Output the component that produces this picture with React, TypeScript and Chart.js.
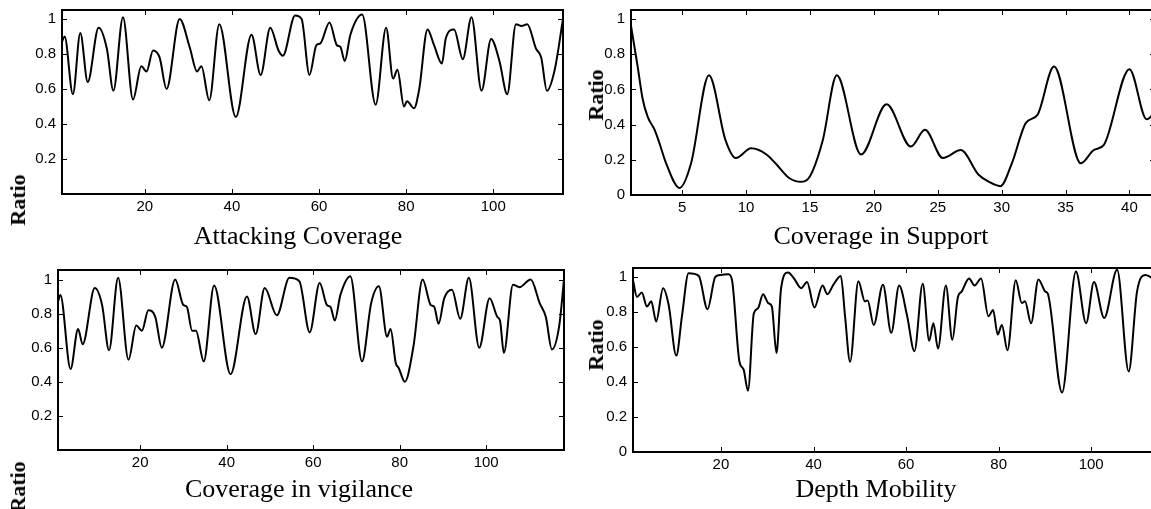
import React, { useEffect, useRef } from 'react';
import { Chart, registerables } from 'chart.js';

Chart.register(...registerables);

// ---------- data ----------
const attackX = [1, 1.6, 3.5, 5.2, 6.9, 9.4, 11.3, 12.8, 15, 17.3, 19.2, 20.4, 21.9, 23.4, 25, 28, 30.3, 32, 33, 34.8, 37.1, 40.9, 44.5, 46.6, 48.8, 50.7, 51.7, 54.5, 56, 57.8, 59.4, 60.3, 62.4, 64.1, 64.9, 65.9, 67.2, 69.9, 73, 75.4, 77, 78, 79.5, 80.2, 81.8, 83, 84.9, 86.4, 88.2, 89.1, 91, 93, 95, 97.3, 99.5, 101.4, 103.2, 105.2, 106.5, 107.8, 109.8, 111, 112.3, 114.1, 116];
const attackY = [0.87, 0.9, 0.57, 0.92, 0.64, 0.95, 0.83, 0.59, 1.01, 0.54, 0.73, 0.7, 0.82, 0.78, 0.6, 1.0, 0.84, 0.7, 0.73, 0.535, 0.97, 0.44, 0.91, 0.68, 0.95, 0.82, 0.79, 1.02, 1.0, 0.68, 0.85, 0.86, 0.98, 0.85, 0.84, 0.76, 0.91, 1.025, 0.51, 0.95, 0.66, 0.71, 0.5, 0.53, 0.49, 0.6, 0.94, 0.85, 0.745, 0.89, 0.94, 0.77, 1.01, 0.59, 0.885, 0.76, 0.57, 0.97, 0.96, 0.97, 0.83, 0.78, 0.59, 0.71, 1.0];

const supportX = [1, 1.5, 1.9, 2.3, 2.85, 3.2, 3.75, 4.8, 5.7, 7.1, 8.4, 9.2, 10.4, 11.6, 12.3, 13.4, 14.3, 14.9, 16, 17.1, 19, 21, 22.9, 24, 25.4, 26.8, 28.2, 29, 29.9, 30.8, 31.9, 32.8, 34.1, 36.2, 37.2, 38, 40, 41.35, 42];
const supportY = [0.96, 0.74, 0.55, 0.445, 0.37, 0.3, 0.18, 0.04, 0.18, 0.68, 0.31, 0.21, 0.265, 0.23, 0.18, 0.095, 0.075, 0.095, 0.31, 0.68, 0.23, 0.515, 0.275, 0.37, 0.21, 0.255, 0.115, 0.075, 0.05, 0.18, 0.41, 0.455, 0.73, 0.18, 0.255, 0.285, 0.715, 0.43, 0.47];

const vigilX = [1, 1.55, 3.9, 5.65, 6.7, 9.5, 11.2, 12.8, 14.9, 17.3, 19.1, 20.4, 21.9, 23.5, 25, 28.1, 30, 30.8, 32, 32.9, 34.7, 37.1, 40.9, 44.7, 46.7, 48.8, 51.6, 54.5, 56.8, 59.2, 61.5, 63.2, 64, 65, 66.3, 68.6, 71.3, 73.4, 75.2, 77.1, 77.9, 79.1, 79.8, 81.2, 83.2, 85.3, 87.2, 88, 89, 90.3, 92.1, 94, 96, 98.4, 100.8, 102.6, 103.2, 104.1, 106.2, 107.7, 110.3, 112.4, 113.8, 115.2, 116.9, 118];
const vigilY = [0.87, 0.91, 0.475, 0.71, 0.62, 0.95, 0.85, 0.585, 1.01, 0.53, 0.73, 0.7, 0.82, 0.78, 0.6, 1.0, 0.85, 0.84, 0.7, 0.7, 0.52, 0.965, 0.445, 0.9, 0.68, 0.95, 0.79, 1.01, 0.99, 0.69, 0.98, 0.85, 0.84, 0.76, 0.91, 1.02, 0.52, 0.86, 0.96, 0.665, 0.71, 0.51, 0.48, 0.4, 0.61, 1.0, 0.85, 0.84, 0.74, 0.89, 0.94, 0.77, 1.01, 0.6, 0.89, 0.78, 0.76, 0.57, 0.97, 0.955, 1.0, 0.86, 0.78, 0.59, 0.73, 1.0];

const depthX = [1, 1.85, 2.9, 4, 4.95, 6, 7.5, 8.7, 10.35, 11.6, 13, 15.2, 17.1, 18.8, 20, 21.65, 22.4, 24, 24.9, 25.85, 27.1, 28, 29.1, 30.2, 31, 32, 33, 34.5, 35.8, 37.35, 38.6, 40.2, 41.95, 43, 44.3, 45.9, 46.8, 47.9, 49.7, 51.1, 51.7, 53, 55, 56.8, 58.5, 60.2, 61.8, 63.6, 65, 65.9, 66.9, 68.6, 70, 71.2, 72, 73.6, 74.8, 76.2, 77.8, 78.8, 79.8, 80.7, 81.9, 83.7, 85, 85.7, 87, 88.6, 90.1, 90.6, 93.7, 96.7, 98.9, 100.6, 102.8, 105.6, 108.1, 109.9, 111.7, 113, 114];
const depthY = [0.98, 0.885, 0.91, 0.83, 0.86, 0.745, 0.935, 0.84, 0.55, 0.78, 1.02, 1.005, 0.815, 1.0, 1.01, 1.015, 0.98, 0.515, 0.47, 0.35, 0.79, 0.82, 0.9, 0.85, 0.83, 0.565, 0.935, 1.025, 0.99, 0.935, 0.97, 0.825, 0.95, 0.9, 0.955, 1.005, 0.78, 0.515, 0.975, 0.86, 0.865, 0.725, 0.955, 0.68, 0.95, 0.78, 0.575, 0.96, 0.635, 0.735, 0.59, 0.95, 0.64, 0.885, 0.915, 0.99, 0.95, 0.99, 0.775, 0.81, 0.67, 0.725, 0.58, 0.98, 0.85, 0.86, 0.735, 0.985, 0.915, 0.905, 0.34, 1.03, 0.735, 0.97, 0.765, 1.04, 0.46, 0.915, 1.01, 0.995, 0.97];

const yTickValues = [0, 0.2, 0.4, 0.6, 0.8, 1];

// ---------- layout ----------
type PanelCfg = {
  title: string;
  xs: number[];
  ys: number[];
  xMin: number;
  xMax: number;
  yMax: number;
  step: number;
  showZero: boolean;
  L: number; T: number; R: number; B: number;
  titleX: number; titleBase: number;
  ratioX: number; ratioY: number;
};

const panels: PanelCfg[] = [
  { title: 'Attacking Coverage', xs: attackX, ys: attackY, xMin: 1, xMax: 116, yMax: 1.051, step: 20, showZero: false,
    L: 62, T: 10, R: 563, B: 194, titleX: 298, titleBase: 245, ratioX: 17.5, ratioY: 200 },
  { title: 'Coverage in Support', xs: supportX, ys: supportY, xMin: 1, xMax: 42, yMax: 1.051, step: 5, showZero: true,
    L: 631, T: 10, R: 1155, B: 195, titleX: 881, titleBase: 245, ratioX: 595.5, ratioY: 95 },
  { title: 'Coverage in vigilance', xs: vigilX, ys: vigilY, xMin: 1, xMax: 118, yMax: 1.056, step: 20, showZero: false,
    L: 58, T: 270, R: 564, B: 450, titleX: 299, titleBase: 498, ratioX: 17.5, ratioY: 486.5 },
  { title: 'Depth Mobility', xs: depthX, ys: depthY, xMin: 1, xMax: 114, yMax: 1.05, step: 20, showZero: true,
    L: 633, T: 268, R: 1156, B: 452, titleX: 876, titleBase: 498, ratioX: 595.5, ratioY: 345 },
];

const PADL = 60, PADT = 20, PADR = 20, PADB = 35;
const TICK_FONT = { family: "'Liberation Sans', Arial, Helvetica, sans-serif", size: 15 };
const SERIF = "'Liberation Serif', 'Times New Roman', Times, serif";

const boxPlugin = {
  id: 'boxTicks',
  afterDatasetsDraw(chart: any) {
    const { ctx, chartArea, scales } = chart;
    const { left, right, top, bottom } = chartArea;
    const xs = scales.x, ys = scales.y;
    const len = 5;
    ctx.save();
    ctx.strokeStyle = '#000';
    ctx.lineWidth = 1;
    ctx.beginPath();
    xs.ticks.forEach((t: any) => {
      const px = Math.round(xs.getPixelForValue(t.value)) + 0.5;
      ctx.moveTo(px, bottom); ctx.lineTo(px, bottom - len);
      ctx.moveTo(px, top); ctx.lineTo(px, top + len);
    });
    ys.ticks.forEach((t: any) => {
      const py = Math.round(ys.getPixelForValue(t.value)) + 0.5;
      ctx.moveTo(left, py); ctx.lineTo(left + len, py);
      ctx.moveTo(right, py); ctx.lineTo(right - len, py);
    });
    ctx.stroke();
    ctx.lineWidth = 2;
    ctx.strokeRect(left, top, right - left, bottom - top);
    ctx.restore();
  },
};

function Panel({ cfg }: { cfg: PanelCfg }) {
  const ref = useRef<HTMLCanvasElement>(null);
  const w = cfg.R - cfg.L + PADL + PADR;
  const h = cfg.B - cfg.T + PADT + PADB;
  useEffect(() => {
    const chart = new Chart(ref.current as HTMLCanvasElement, {
      type: 'line',
      data: {
        datasets: [{
          data: cfg.xs.map((x, i) => ({ x, y: cfg.ys[i] })),
          borderColor: '#000',
          borderWidth: 2,
          pointRadius: 0,
          cubicInterpolationMode: 'monotone',
          fill: false,
        }],
      },
      options: {
        responsive: false,
        animation: false,
        devicePixelRatio: 1,
        events: [],
        layout: { padding: { left: 0, top: PADT, right: PADR, bottom: 0 } },
        plugins: { legend: { display: false }, tooltip: { enabled: false }, title: { display: false } },
        scales: {
          x: {
            type: 'linear', min: cfg.xMin, max: cfg.xMax,
            grid: { display: false, drawTicks: false }, border: { display: false },
            ticks: { stepSize: cfg.step, includeBounds: false, autoSkip: false, maxRotation: 0, padding: 4, color: '#000', font: TICK_FONT,
              callback: (v: any) => String(v) },
            afterFit: (s: any) => { s.height = PADB; },
          },
          y: {
            type: 'linear', min: 0, max: cfg.yMax,
            grid: { display: false, drawTicks: false }, border: { display: false },
            afterBuildTicks: (s: any) => { s.ticks = yTickValues.map((value) => ({ value })); },
            ticks: { padding: 6, color: '#000', font: TICK_FONT,
              callback: (v: any) => (v === 0 && !cfg.showZero ? '' : String(Number(Number(v).toFixed(1)))) },
            afterFit: (s: any) => { s.width = PADL; },
          },
        },
      } as any,
      plugins: [boxPlugin],
    });
    return () => chart.destroy();
  }, []);
  return (
    <canvas ref={ref} width={w} height={h}
      style={{ position: 'absolute', left: cfg.L - PADL, top: cfg.T - PADT, width: w, height: h }} />
  );
}

export default function App() {
  return (
    <div style={{ position: 'fixed', left: 0, top: 0, width: 1151, height: 509, overflow: 'hidden', background: '#fff' }}>
      {panels.map((p) => (
        <React.Fragment key={p.title}>
          <Panel cfg={p} />
          <div style={{ position: 'absolute', left: p.titleX, top: p.titleBase - 22, transform: 'translateX(-50%)',
            fontFamily: SERIF, fontSize: 26, lineHeight: '26px', whiteSpace: 'nowrap', color: '#000' }}>{p.title}</div>
          <div style={{ position: 'absolute', left: p.ratioX, top: p.ratioY, transform: 'translate(-50%, -50%) rotate(-90deg)',
            fontFamily: SERIF, fontSize: 22, fontWeight: 'bold', lineHeight: '22px', whiteSpace: 'nowrap', color: '#000' }}>Ratio</div>
        </React.Fragment>
      ))}
    </div>
  );
}
